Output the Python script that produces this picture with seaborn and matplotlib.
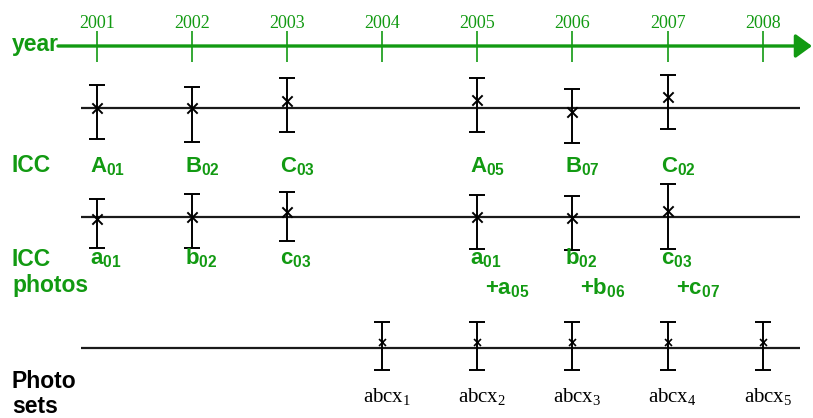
import matplotlib
matplotlib.use("Agg")
import matplotlib.pyplot as plt
import seaborn as sns
import pandas as pd

sns.set_theme(style="white")
plt.rcParams['font.family'] = ['Liberation Sans', 'DejaVu Sans']
plt.rcParams['mathtext.fontset'] = 'custom'
plt.rcParams['mathtext.rm'] = 'Liberation Serif'
plt.rcParams['mathtext.bf'] = 'Liberation Sans:bold'

GREEN = '#129a12'

# ---------------- data ----------------
years_axis = [2001, 2002, 2003, 2004, 2005, 2006, 2007, 2008]

# row 1 : ICC  (vertical positions on diagram scale, smaller = higher)
icc_years = [2001, 2002, 2003, 2005, 2006, 2007]
icc_center = [108, 108, 101, 100, 112, 97]
icc_top = [85, 87, 78, 78, 89, 75]
icc_bottom = [139, 142, 132, 132, 143, 129]
icc_labels = ['A', 'B', 'C', 'A', 'B', 'C']
icc_subs = ['01', '02', '03', '05', '07', '02']

# row 2 : ICC photos
pho_years = [2001, 2002, 2003, 2005, 2006, 2007]
pho_center = [219, 217, 212, 217, 218, 211]
pho_top = [199, 194, 192, 195, 196, 184]
pho_bottom = [248, 248, 241, 249, 250, 249]
pho_labels = ['a', 'b', 'c', 'a', 'b', 'c']
pho_subs = ['01', '02', '03', '01', '02', '03']
pho_extra_years = [2005, 2006, 2007]
pho_extra_labels = ['a', 'b', 'c']
pho_extra_subs = ['05', '06', '07']

# row 3 : Photo sets
set_years = [2004, 2005, 2006, 2007, 2008]
set_center = [342, 342, 342, 342, 342]
set_top = [322, 322, 322, 322, 322]
set_bottom = [370, 370, 370, 370, 370]
set_subs = ['1', '2', '3', '4', '5']

row_base = [108, 217, 348]

# ---------------- figure ----------------
fig = plt.figure(figsize=(8.13, 4.18), dpi=100)
ax = fig.add_axes([0, 0, 1, 1])
px = 95.1  # pixels per year
XL = (2001 - 97 / px, 2001 + (813 - 97) / px)
ax.set_xlim(*XL)
ax.set_ylim(418, 0)
ax.axis('off')

# year axis
x0 = 2001 - (97 - 58) / px
x1 = 2001 + (812 - 97) / px
ax.annotate('', xy=(x1, 46), xytext=(x0, 46),
            arrowprops=dict(arrowstyle='-|>,head_length=0.55,head_width=0.4',
                            lw=2.4, color=GREEN, mutation_scale=18,
                            shrinkA=0, shrinkB=0))
ax.vlines(years_axis, 31, 62, color=GREEN, lw=1.2)
for y in years_axis:
    ax.text(y, 28, str(y), ha='center', va='baseline', color=GREEN,
            fontsize=13, family='Liberation Serif')

# row baselines
lx0 = 2001 - 16 / px
lx1 = 2001 + (800 - 97) / px
for b in row_base:
    ax.plot([lx0, lx1], [b, b], color='#1a1a1a', lw=1.6, solid_capstyle='butt')

frames = []
for name, yrs, c, t, bt in [('icc', icc_years, icc_center, icc_top, icc_bottom),
                            ('pho', pho_years, pho_center, pho_top, pho_bottom),
                            ('set', set_years, set_center, set_top, set_bottom)]:
    frames.append(pd.DataFrame({'row': name, 'year': yrs, 'center': c,
                                'top': t, 'bottom': bt}))
df = pd.concat(frames, ignore_index=True)

err = [df['center'] - df['top'], df['bottom'] - df['center']]
ax.errorbar(df['year'], df['center'], yerr=err, fmt='none', ecolor='black',
            elinewidth=1.4, capsize=6, capthick=1.4)

big = df[df['row'] != 'set']
small = df[df['row'] == 'set']
sns.scatterplot(data=big, x='year', y='center', marker='x', s=55, color='black',
                linewidth=1.4, ax=ax, legend=False, zorder=5)
sns.scatterplot(data=small, x='year', y='center', marker='x', s=25, color='black',
                linewidth=1.2, ax=ax, legend=False, zorder=5)
ax.set_xlim(*XL)
ax.set_ylim(418, 0)

# left labels
def left(y, s, color=GREEN):
    ax.text(2001 - 85 / px, y, s, ha='left', va='baseline', color=color,
            fontsize=16.5, fontweight='bold')

left(51, 'year')
left(172, 'ICC')
left(266, 'ICC')
left(292, 'photos')
left(388, 'Photo', 'black')
left(413, 'sets', 'black')

off = -7 / px
for yr, l, s in zip(icc_years, icc_labels, icc_subs):
    ax.text(yr + off, 172, r'$\mathbf{%s_{%s}}$' % (l, s), ha='left',
            va='baseline', color=GREEN, fontsize=16)
for yr, l, s in zip(pho_years, pho_labels, pho_subs):
    ax.text(yr + off, 264, r'$\mathbf{%s_{%s}}$' % (l, s), ha='left',
            va='baseline', color=GREEN, fontsize=16)
for yr, l, s in zip(pho_extra_years, pho_extra_labels, pho_extra_subs):
    ax.text(yr + 8 / px, 294, r'$\mathbf{+%s_{%s}}$' % (l, s), ha='left',
            va='baseline', color=GREEN, fontsize=16)
for yr, s in zip(set_years, set_subs):
    ax.text(yr + 5 / px, 402, r'$\mathrm{abcx}_{%s}$' % s, ha='center',
            va='baseline', color='black', fontsize=15)

fig.savefig('out.png', dpi=100)
